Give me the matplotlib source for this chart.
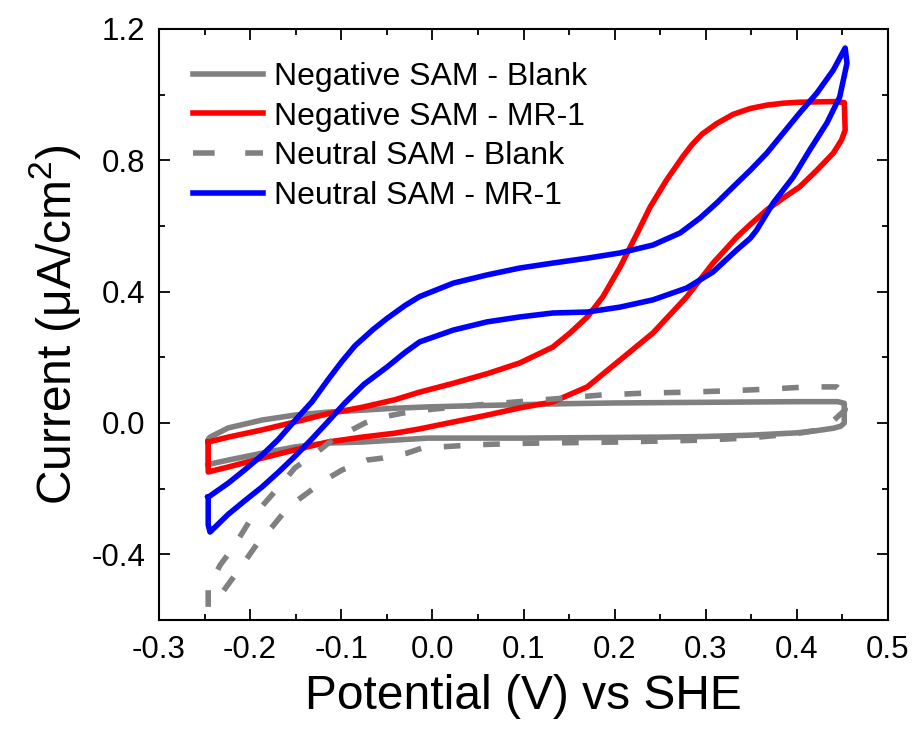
import matplotlib
matplotlib.use("Agg")
import matplotlib.pyplot as plt
from matplotlib.lines import Line2D

plt.rcParams['font.family'] = ['Liberation Sans', 'DejaVu Sans']
plt.rcParams['mathtext.fontset'] = 'custom'
plt.rcParams['mathtext.rm'] = 'Liberation Sans'
plt.rcParams['mathtext.it'] = 'Liberation Sans:italic'

# ---- data (potential V vs SHE, current uA/cm2), each a closed CV loop ----
neg_blank_v = [-0.246, -0.246, -0.244, -0.224, -0.187, -0.151, -0.115, -0.077, -0.041, -0.005,
               0.05, 0.10, 0.15, 0.20, 0.25, 0.30, 0.35, 0.40, 0.445, 0.452,
               0.452, 0.448, 0.44, 0.42, 0.40, 0.35, 0.30, 0.25, 0.20, 0.15, 0.10, 0.05,
               -0.005, -0.041, -0.077, -0.115, -0.151, -0.187, -0.224, -0.244, -0.246]
neg_blank_i = [-0.128, -0.050, -0.043, -0.015, 0.009, 0.024, 0.033, 0.039, 0.045, 0.049,
               0.053, 0.056, 0.059, 0.061, 0.062, 0.063, 0.064, 0.065, 0.065, 0.060,
               0.000, -0.010, -0.016, -0.024, -0.030, -0.037, -0.041, -0.043, -0.044, -0.045, -0.046, -0.046,
               -0.046, -0.052, -0.058, -0.061, -0.073, -0.092, -0.113, -0.125, -0.128]

neg_mr1_v = [-0.246, -0.224, -0.187, -0.151, -0.115, -0.077, -0.041, -0.014, 0.023, 0.060,
             0.096, 0.132, 0.151, 0.170, 0.187, 0.206, 0.225, 0.239, 0.257, 0.275,
             0.285, 0.296, 0.312, 0.330, 0.349, 0.367, 0.385, 0.403, 0.440, 0.452,
             0.453, 0.449, 0.440, 0.422, 0.403, 0.385, 0.367, 0.349, 0.334, 0.308,
             0.279, 0.242, 0.206, 0.170, 0.132, 0.096, 0.060, 0.023, -0.014, -0.041,
             -0.077, -0.115, -0.151, -0.187, -0.224, -0.246, -0.246]
neg_mr1_i = [-0.058, -0.043, -0.021, 0.003, 0.028, 0.048, 0.071, 0.094, 0.121, 0.150,
             0.183, 0.231, 0.274, 0.323, 0.384, 0.475, 0.579, 0.658, 0.740, 0.812,
             0.848, 0.880, 0.912, 0.940, 0.958, 0.968, 0.974, 0.977, 0.979, 0.976,
             0.892, 0.862, 0.822, 0.770, 0.719, 0.685, 0.649, 0.605, 0.566, 0.487,
             0.384, 0.274, 0.192, 0.110, 0.064, 0.046, 0.024, 0.003, -0.018, -0.031,
             -0.043, -0.058, -0.082, -0.107, -0.134, -0.149, -0.058]

neu_blank_v = [-0.246, -0.246, -0.233, -0.218, -0.200, -0.184, -0.162, -0.151, -0.126, -0.110,
               -0.074, -0.060, -0.033, 0.0, 0.05, 0.10, 0.15, 0.184, 0.233, 0.28,
               0.324, 0.368, 0.412, 0.444, 0.452, 0.453, 0.44, 0.425, 0.40, 0.35,
               0.30, 0.25, 0.20, 0.15, 0.10, 0.05, -0.011, -0.028, -0.055, -0.072,
               -0.099, -0.118, -0.140, -0.158, -0.176, -0.191, -0.211, -0.235, -0.246]
neu_blank_i = [-0.560, -0.505, -0.433, -0.377, -0.296, -0.244, -0.174, -0.137, -0.088, -0.052,
               0.000, 0.015, 0.030, 0.042, 0.055, 0.066, 0.077, 0.085, 0.091, 0.094,
               0.098, 0.103, 0.110, 0.110, 0.088, 0.040, 0.007, -0.021, -0.032, -0.045,
               -0.052, -0.055, -0.058, -0.060, -0.062, -0.066, -0.076, -0.092, -0.107, -0.113,
               -0.143, -0.174, -0.219, -0.256, -0.317, -0.363, -0.442, -0.533, -0.560]

neu_mr1_v = [-0.246, -0.224, -0.206, -0.187, -0.169, -0.151, -0.132, -0.115, -0.100, -0.085,
             -0.065, -0.050, -0.030, -0.014, 0.023, 0.060, 0.096, 0.132, 0.170, 0.206, 0.242,
             0.272, 0.294, 0.312, 0.330, 0.349, 0.367, 0.385, 0.403, 0.422, 0.440, 0.453,
             0.455, 0.447, 0.433, 0.414, 0.396, 0.374, 0.356, 0.349, 0.334, 0.308,
             0.279, 0.242, 0.206, 0.170, 0.132, 0.096, 0.060, 0.023, -0.014, -0.030,
             -0.050, -0.075, -0.096, -0.115, -0.132, -0.151, -0.169, -0.187, -0.206, -0.224,
             -0.244, -0.246, -0.246]
neu_mr1_i = [-0.226, -0.183, -0.143, -0.098, -0.050, 0.007, 0.065, 0.130, 0.185, 0.235,
             0.285, 0.318, 0.358, 0.385, 0.426, 0.451, 0.472, 0.487, 0.502, 0.518, 0.542,
             0.579, 0.625, 0.670, 0.719, 0.770, 0.822, 0.883, 0.944, 1.005, 1.075, 1.142,
             1.096, 0.993, 0.914, 0.831, 0.749, 0.670, 0.588, 0.563, 0.527, 0.460,
             0.411, 0.375, 0.353, 0.338, 0.335, 0.323, 0.308, 0.283, 0.247, 0.215,
             0.170, 0.118, 0.061, 0.003, -0.048, -0.102, -0.150, -0.195, -0.237, -0.278,
             -0.332, -0.310, -0.226]

labels = ["Negative SAM - Blank", "Negative SAM - MR-1", "Neutral SAM - Blank", "Neutral SAM - MR-1"]
x_ticks = [-0.3, -0.2, -0.1, 0.0, 0.1, 0.2, 0.3, 0.4, 0.5]
y_ticks = [-0.4, 0.0, 0.4, 0.8, 1.2]

GRAY, RED, BLUE = "#808080", "#ff0000", "#0000ff"
LW = 4.0
DASH = (3.0, 4.1)

fig = plt.figure(figsize=(9.15, 7.33), dpi=100)
ax = fig.add_axes([159/915, 1 - 620/733, 729/915, 591/733])

ax.plot(neg_blank_v, neg_blank_i, color=GRAY, lw=LW, solid_joinstyle='round')
ax.plot(neg_mr1_v, neg_mr1_i, color=RED, lw=LW, solid_joinstyle='round')
ax.plot(neu_blank_v, neu_blank_i, color=GRAY, lw=LW, dashes=DASH)
ax.plot(neu_mr1_v, neu_mr1_i, color=BLUE, lw=LW, solid_joinstyle='round')

ax.set_xlim(-0.3, 0.5)
ax.set_ylim(-0.6, 1.2)
ax.set_xticks(x_ticks)
ax.set_xticklabels([f"{t:.1f}" for t in x_ticks])
ax.set_yticks(y_ticks)
ax.set_yticklabels([f"{t:.1f}" for t in y_ticks])
ax.set_xticks([t + 0.05 for t in x_ticks[:-1]], minor=True)
ax.set_yticks([-0.6, -0.2, 0.2, 0.6, 1.0], minor=True)

ax.tick_params(which='both', direction='in', top=True, right=True, width=1.3, labelsize=22.5)
ax.tick_params(which='major', length=8)
ax.tick_params(which='minor', length=4)
ax.tick_params(axis='x', which='major', pad=11)
ax.tick_params(axis='y', which='major', pad=10)
for s in ax.spines.values():
    s.set_linewidth(1.5)

ax.set_xlabel("Potential (V) vs SHE", fontsize=34.5, labelpad=6)
ax.set_ylabel("Current (\u03bcA/cm$^{2}$)", fontsize=34.5, labelpad=6)

handles = [Line2D([], [], color=GRAY, lw=LW),
           Line2D([], [], color=RED, lw=LW),
           Line2D([], [], color=GRAY, lw=LW, dashes=(3.9, 5.5)),
           Line2D([], [], color=BLUE, lw=LW)]
ax.legend(handles, labels, loc='upper left', bbox_to_anchor=((193 - 159) / 729, 1 - 33 / 591),
          frameon=False, fontsize=23, handlelength=2.2, handletextpad=0.35,
          labelspacing=0.3, borderpad=0, borderaxespad=0)

fig.savefig("out.png", dpi=100)
